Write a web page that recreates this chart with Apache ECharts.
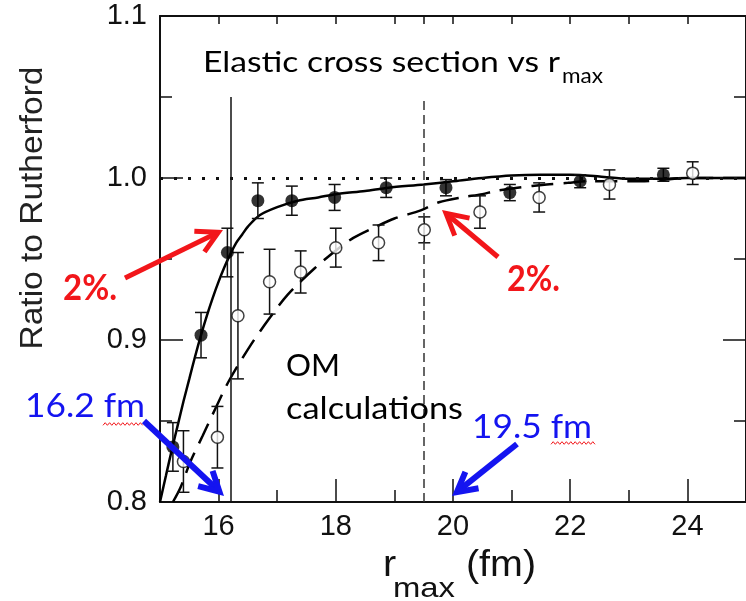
<!DOCTYPE html>
<html><head><meta charset="utf-8">
<script src="https://cdn.jsdelivr.net/npm/echarts@6/dist/echarts.min.js"></script>
<style>html,body{margin:0;padding:0;background:#fff;}#c{width:746px;height:601px;}</style>
</head><body><div id="c"></div>
<script>
// ---- data ----
const filledX   = [15.22, 15.70, 16.15, 16.67, 17.25, 17.98, 18.86, 19.88, 20.97, 22.17, 23.59];
const filledY   = [0.834, 0.903, 0.954, 0.986, 0.986, 0.988, 0.994, 0.994, 0.991, 0.998, 1.002];
const filledErr = [0.015, 0.014, 0.015, 0.011, 0.009, 0.008, 0.006, 0.005, 0.005, 0.004, 0.004];

const openX   = [15.40, 15.98, 16.33, 16.87, 17.40, 18.00, 18.73, 19.51, 20.46, 21.47, 22.67, 24.09];
const openY   = [0.825, 0.840, 0.915, 0.936, 0.942, 0.957, 0.960, 0.968, 0.979, 0.988, 0.996, 1.003];
const openErr = [0.019, 0.019, 0.039, 0.020, 0.013, 0.012, 0.011, 0.008, 0.010, 0.009, 0.009, 0.007];

const solidX = [15.0,15.1,15.2,15.3,15.4,15.5,15.6,15.7,15.8,15.9,16.0,16.1,16.2,16.3,16.4,16.5,16.7,17.0,17.35,17.7,18.0,18.5,18.9,19.5,20.0,20.5,21.0,21.5,22.0,22.5,23.0,23.5,24.0,25.0];
const solidY = [0.800,0.816,0.832,0.847,0.862,0.876,0.890,0.903,0.915,0.926,0.936,0.945,0.953,0.960,0.965,0.970,0.977,0.982,0.986,0.988,0.990,0.992,0.994,0.996,0.998,1.000,1.0015,1.002,1.002,1.001,0.9995,0.9995,1.000,1.000];

const dashX = [15.22,15.35,15.52,15.73,15.95,16.18,16.55,16.88,17.18,17.63,18.06,18.30,18.63,19.0,19.45,19.76,20.14,20.5,20.72,21.1,21.6,21.96,22.3,23.2,24.0,25.0];
const dashY = [0.800,0.809,0.825,0.841,0.858,0.875,0.897,0.914,0.928,0.944,0.957,0.963,0.969,0.975,0.980,0.985,0.988,0.990,0.992,0.994,0.996,0.997,0.998,0.998,1.000,1.000];

const refLineSolidX = 16.2;
const refLineDashX = 19.5;
const refLineRange = [0.8, 1.05];
const unityY = 1.0;

const xRange = [15, 25];
const yRange = [0.8, 1.1];
const xMajorTicks = [16, 18, 20, 22, 24];
const xTopTicks = [16, 17, 18, 19, 19.5, 20, 21, 22, 23, 24];

// ---- helpers ----
const zip = (a, b, c) => a.map((v, i) => c ? [v, b[i], c[i]] : [v, b[i]]);
const ctx = document.createElement('canvas').getContext('2d');
function tw(text, font) { ctx.font = font; return ctx.measureText(text).width; }

function label(text, left, right, cy, font, color, opts) {
  opts = opts || {};
  const sx = right != null ? (right - left) / tw(text, font) : (opts.scale || 1);
  return {
    type: 'text', x: left, y: cy, scaleX: sx, rotation: opts.rotation || 0, z: 100,
    style: { text: text, font: font, fill: color,
      textAlign: opts.align || 'left', align: opts.align || 'left',
      textVerticalAlign: 'middle', verticalAlign: 'middle' }
  };
}
function arrow(x1, y1, x2, y2, color, w, head) {
  const ang = Math.atan2(y2 - y1, x2 - x1), a = 0.5;
  const back = w / (2 * Math.sin(a));
  const tx = x2 - back * Math.cos(ang), ty = y2 - back * Math.sin(ang);
  const h1 = [tx - head * Math.cos(ang - a), ty - head * Math.sin(ang - a)];
  const h2 = [tx - head * Math.cos(ang + a), ty - head * Math.sin(ang + a)];
  return [
    { type: 'polyline', z: 100, shape: { points: [[x1, y1], [tx - 1 * Math.cos(ang), ty - 1 * Math.sin(ang)]] },
      style: { stroke: color, lineWidth: w, fill: null, lineCap: 'butt' } },
    { type: 'polyline', z: 100, shape: { points: [h1, [tx, ty], h2] },
      style: { stroke: color, lineWidth: w, fill: null, lineJoin: 'miter', lineCap: 'butt' } }
  ];
}
function wavy(x1, x2, y, color) {
  const pts = [];
  let k = 0;
  for (let x = x1; x <= x2; x += 2.2) { pts.push([x, y + (k % 2 ? -1.3 : 1.3)]); k++; }
  return { type: 'polyline', z: 100, shape: { points: pts }, style: { stroke: color, lineWidth: 1, fill: null } };
}

const SANS = 'Liberation Sans';
const CAL = 'Lato';
const RED = '#f2161a', BLUE = '#1414f0';

const graphics = [
  label('Elastic cross section vs r', 203, 560, 63, '29px ' + CAL, '#000'),
  label('max', 562, 603, 76, '22px ' + CAL, '#000'),
  label('OM', 286, 340, 366, '31px ' + CAL, '#000'),
  label('calculations', 286, 463, 409, '31px ' + CAL, '#000'),
  label('2%.', 63, 117, 288, 'bold 36px ' + CAL, RED),
  label('2%.', 507, 560, 279, 'bold 36px ' + CAL, RED),
  label('16.2 fm', 25, 145, 406, '33px ' + CAL, BLUE),
  label('19.5 fm', 472, 592, 427, '33px ' + CAL, BLUE),
  wavy(103, 143, 424, RED),
  wavy(551, 597, 443, RED),
  label('Ratio to Rutherford', 33, null, 208, '32px ' + SANS, '#222', { rotation: Math.PI / 2, align: 'center', scale: 1.0 }),
  label('r', 383, null, 566, '36px ' + SANS, '#111', { scale: 1.1 }),
  label('max', 393, 455, 589, '28px ' + SANS, '#111'),
  label('(fm)', 466, 536, 566, '36px ' + SANS, '#111'),
].concat(
  arrow(125, 278, 223, 230, RED, 5, 24),
  arrow(498, 257, 442, 210, RED, 5, 24),
  arrow(144, 421, 224, 496, BLUE, 6, 22),
  arrow(517, 444, 452, 496, BLUE, 6, 22)
);
// y-name: fit its length to reference span
(function () {
  const g = graphics[10];
  g.scaleX = 283 / tw('Ratio to Rutherford', '32px ' + SANS);
})();

function errRender(params, api) {
  const x = api.value(0), y = api.value(1), e = api.value(2);
  const p = api.coord([x, y + e]), q = api.coord([x, y - e]);
  const hw = 6, st = { stroke: '#111', lineWidth: 1.5 };
  return { type: 'group', children: [
    { type: 'line', shape: { x1: p[0], y1: p[1], x2: q[0], y2: q[1] }, style: st },
    { type: 'line', shape: { x1: p[0] - hw, y1: p[1], x2: p[0] + hw, y2: p[1] }, style: st },
    { type: 'line', shape: { x1: q[0] - hw, y1: q[1], x2: q[0] + hw, y2: q[1] }, style: st }
  ] };
}

const axisLine = { show: true, lineStyle: { color: '#111', width: 2 } };
const tickStyle = { color: '#111', width: 1.5 };

const option = {
  animation: false,
  backgroundColor: '#fff',
  grid: { left: 160, right: -15, top: 16, bottom: 99 },
  xAxis: [
    { type: 'value', min: xRange[0], max: xRange[1], interval: 1, position: 'bottom',
      axisLine: axisLine, splitLine: { show: false },
      axisTick: { inside: true, length: 12, lineStyle: tickStyle },
      axisLabel: { customValues: xMajorTicks, fontSize: 29, fontFamily: SANS, color: '#111', margin: 10 } },
    { type: 'value', min: xRange[0], max: xRange[1], position: 'bottom',
      axisLine: { show: false }, splitLine: { show: false },
      axisTick: { inside: true, length: 23, customValues: xMajorTicks, lineStyle: tickStyle },
      axisLabel: { show: false } },
    { type: 'value', min: xRange[0], max: xRange[1], position: 'top',
      axisLine: axisLine, splitLine: { show: false },
      axisTick: { inside: true, length: 8, customValues: xTopTicks, lineStyle: tickStyle },
      axisLabel: { show: false } }
  ],
  yAxis: [
    { type: 'value', min: yRange[0], max: yRange[1], interval: 0.1, position: 'left',
      axisLine: axisLine, splitLine: { show: false },
      axisTick: { inside: true, length: 23, lineStyle: tickStyle },
      minorTick: { show: true, splitNumber: 2, length: 12, lineStyle: tickStyle },
      axisLabel: { fontSize: 29, fontFamily: SANS, color: '#111', margin: 13,
        formatter: v => v.toFixed(1) } },
    { type: 'value', min: yRange[0], max: yRange[1], interval: 0.1, position: 'right',
      axisLine: axisLine, splitLine: { show: false },
      axisTick: { inside: true, length: 23, lineStyle: tickStyle },
      minorTick: { show: true, splitNumber: 2, length: 12, lineStyle: tickStyle },
      axisLabel: { show: false } }
  ],
  series: [
    { type: 'line', data: zip(solidX, solidY), symbol: 'none', smooth: 0.3, z: 3,
      lineStyle: { color: '#000', width: 2.5 },
      markLine: { silent: true, symbol: 'none', label: { show: false }, animation: false,
        data: [
          [{ coord: [refLineSolidX, refLineRange[0]], lineStyle: { color: '#111', width: 1.5, type: 'solid' } },
           { coord: [refLineSolidX, refLineRange[1]] }],
          [{ coord: [refLineDashX, refLineRange[0]], lineStyle: { color: '#333', width: 1.5, type: [9, 5] } },
           { coord: [refLineDashX, refLineRange[1]] }],
          [{ coord: [xRange[0], unityY], lineStyle: { color: '#111', width: 3, type: [3, 11] } },
           { coord: [xRange[1], unityY] }]
        ] } },
    { type: 'line', data: zip(dashX, dashY), symbol: 'none', smooth: 0.3, z: 3,
      lineStyle: { color: '#000', width: 2.5, type: [22, 10] } },
    { type: 'custom', data: zip(filledX, filledY, filledErr), renderItem: errRender, z: 4 },
    { type: 'custom', data: zip(openX, openY, openErr), renderItem: errRender, z: 4 },
    { type: 'scatter', data: zip(filledX, filledY), symbol: 'circle', symbolSize: 13, z: 5,
      itemStyle: { color: '#000' } },
    { type: 'scatter', data: zip(openX, openY), symbol: 'circle', symbolSize: 12, z: 5,
      itemStyle: { color: '#fff', borderColor: '#111', borderWidth: 1.5 } }
  ],
  graphic: { elements: graphics }
};

const chart = echarts.init(document.getElementById('c'), null, { renderer: 'canvas' });
chart.setOption(option);
</script>
</body></html>
